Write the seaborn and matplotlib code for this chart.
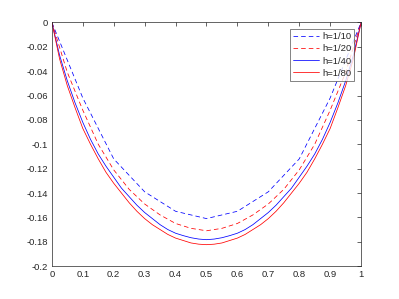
import numpy as np
import pandas as pd
import matplotlib
matplotlib.use("Agg")
import matplotlib.pyplot as plt
import seaborn as sns
from matplotlib.ticker import FuncFormatter

# grid h=1/10
x10 = np.linspace(0, 1, 11)
u10 = [0, -0.062, -0.112, -0.139, -0.155, -0.161, -0.155, -0.139, -0.112, -0.062, 0]

# grid h=1/20
x20 = np.linspace(0, 1, 21)
u20 = [0, -0.041, -0.072, -0.100, -0.121, -0.137, -0.149, -0.158, -0.165, -0.169, -0.171,
       -0.169, -0.165, -0.158, -0.149, -0.137, -0.121, -0.100, -0.072, -0.041, 0]

# h=1/40 (read every 0.025)
x40 = np.linspace(0, 1, 41)
u40 = [0, -0.027, -0.048, -0.066, -0.082, -0.096, -0.108, -0.118, -0.127, -0.136,
       -0.143, -0.150, -0.156, -0.161, -0.166, -0.170, -0.173, -0.175, -0.1767, -0.1778,
       -0.1783,
       -0.1778, -0.1767, -0.175, -0.173, -0.170, -0.166, -0.161, -0.156, -0.150, -0.143,
       -0.136, -0.127, -0.118, -0.108, -0.096, -0.082, -0.066, -0.048, -0.027, 0]

# h=1/80 (read every 0.025)
x80 = np.linspace(0, 1, 41)
u80 = [0, -0.030, -0.052, -0.070, -0.087, -0.100, -0.112, -0.123, -0.132, -0.140,
       -0.148, -0.155, -0.161, -0.166, -0.170, -0.174, -0.177, -0.179, -0.181, -0.182,
       -0.1824,
       -0.182, -0.181, -0.179, -0.177, -0.174, -0.170, -0.166, -0.161, -0.155, -0.148,
       -0.140, -0.132, -0.123, -0.112, -0.100, -0.087, -0.070, -0.052, -0.030, 0]

labels = ['h=1/10', 'h=1/20', 'h=1/40', 'h=1/80']
series = [(x10, u10), (x20, u20), (x40, u40), (x80, u80)]
colors = ['#0000ff', '#ff0000', '#0000ff', '#ff0000']
styles = [(0, (6, 4)), (0, (6, 4)), '-', '-']

xticks = np.round(np.arange(0, 1.01, 0.1), 1)
yticks = np.round(np.arange(-0.2, 0.001, 0.02), 2)

sns.set_style("white")
plt.rcParams['font.family'] = ['Liberation Sans', 'DejaVu Sans']
axcol = '#262626'

fig = plt.figure(figsize=(3.99, 2.99), dpi=100)
ax = fig.add_axes([0.13, 0.11, 0.775, 0.815])

for (xs, us), c, ls in zip(series, colors, styles):
    df = pd.DataFrame({'x': xs, 'u': us})
    sns.lineplot(data=df, x='x', y='u', ax=ax, color=c, linestyle=ls,
                 linewidth=0.55, sort=False, estimator=None, legend=False)

ax.set_xlim(0, 1)
ax.set_ylim(-0.2, 0)
ax.set_xticks(xticks)
ax.set_yticks(yticks)
fmt = FuncFormatter(lambda v, p: '%g' % (round(v, 3) + 0.0))
ax.xaxis.set_major_formatter(fmt)
ax.yaxis.set_major_formatter(fmt)
ax.set_xlabel('')
ax.set_ylabel('')
ax.tick_params(direction='in', length=2.8, width=0.5, colors=axcol,
               labelsize=6.8, top=True, right=True, pad=3)
for s in ax.spines.values():
    s.set_visible(True)
    s.set_color(axcol)
    s.set_linewidth(0.5)

leg = ax.legend(ax.get_lines(), labels, loc='upper right', fontsize=6.8,
                frameon=True, fancybox=False, handlelength=2.7,
                handletextpad=0.35, borderpad=0.35, labelspacing=0.33,
                borderaxespad=0.7)
leg.get_frame().set_edgecolor(axcol)
leg.get_frame().set_linewidth(0.5)
for t in leg.get_texts():
    t.set_color(axcol)

fig.savefig('out.png', dpi=100)
